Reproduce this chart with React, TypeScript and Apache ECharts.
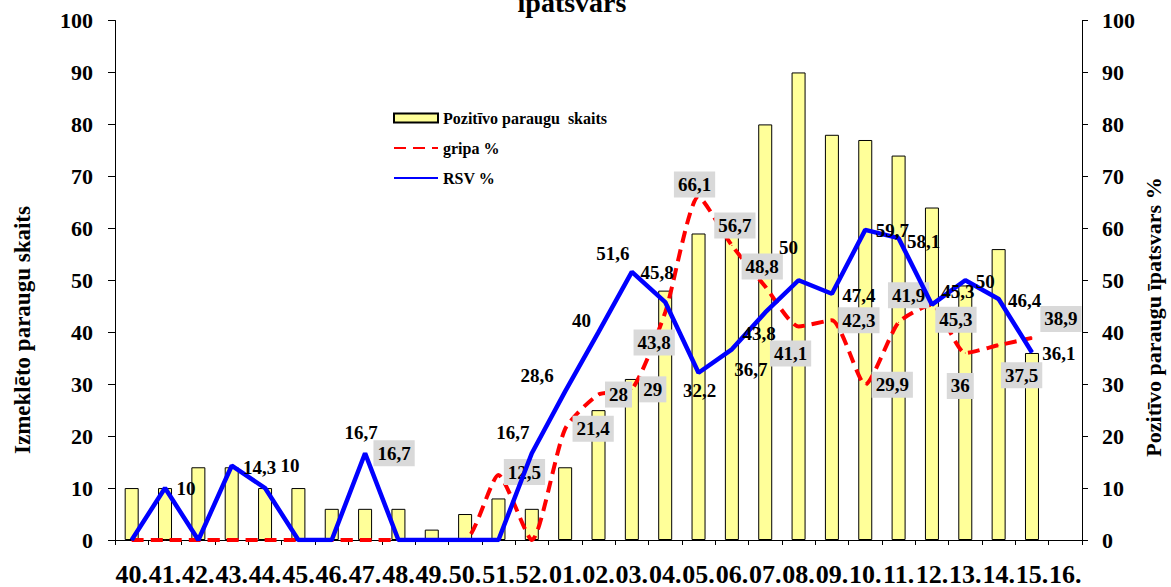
import React, { useEffect, useRef } from 'react';
import * as echarts from 'echarts';

const weeks = ['40.', '41.', '42.', '43.', '44.', '45.', '46.', '47.', '48.', '49.', '50.', '51.', '52.', '01.', '02.', '03.', '04.', '05.', '06.', '07.', '08.', '09.', '10.', '11.', '12.', '13.', '14.', '15.', '16.'];
const positiveSamples = [10, 10, 14, 14, 10, 10, 6, 6, 6, 2, 5, 8, 6, 14, 25, 31, 48, 59, 60, 80, 90, 78, 77, 74, 64, 49, 56, 36, null];
const gripaPct = [0, 0, 0, 0, 0, 0, 0, 0, 0, 0, 0, 12.5, 0, 21.4, 28, 29, 43.8, 66.1, 56.7, 48.8, 41.1, 42.3, 29.9, 41.9, 45.3, 36, 37.5, 38.9, null];
const rsvPct = [0, 10, 0, 14.3, 10, 0, 0, 16.7, 0, 0, 0, 0, 16.7, 28.6, 40, 51.6, 45.8, 32.2, 36.7, 43.8, 50, 47.4, 59.7, 58.1, 45.3, 50, 46.4, 36.1, null];
const extraRsvLabelWeek = '47.';
const extraRsvLabelValue = 16.7;
const axisMin = 0;
const axisMax = 100;
const axisStep = 10;

const barName = 'Pozitīvo paraugu  skaits';
const gripaName = 'gripa %';
const rsvName = 'RSV %';

// label placement (offset of label centre from its point, px)
const rsvLabelOffset: Record<string, [number, number]> = {
  '41.': [21, 0], '43.': [28, 2], '44.': [25, -23], '47.': [-4, -21], '52.': [-19, -21],
  '01.': [-28, -16], '02.': [-17, -12], '03.': [-19, -18], '04.': [-8, -30], '05.': [1, 18],
  '06.': [19, 20], '07.': [-6, 21], '08.': [-10, -33], '09.': [27, 2], '10.': [27, 1],
  '11.': [25, 3], '12.': [26, -13], '13.': [20, 1], '14.': [26, 2], '15.': [27, 1],
};
const gripaLabelOffset: Record<string, [number, number]> = {
  '51.': [26, -3], '01.': [28, 0], '02.': [20, 0], '03.': [21, 0], '04.': [-11, 30],
  '05.': [-4, -12], '06.': [3, -20], '07.': [-3, -20], '08.': [-8, 27], '09.': [27, 0],
  '10.': [27, 0], '11.': [10, -27], '12.': [24, 15], '13.': [-5, 33], '14.': [23, 30],
  '15.': [29, -19],
};

const FONT = 'Liberation Serif, Times New Roman, serif';
const fmt = (v: number) => String(v).replace('.', ',');

const plainLabel = {
  show: true,
  position: 'inside',
  align: 'center',
  verticalAlign: 'middle',
  color: '#000',
  fontFamily: FONT,
  fontWeight: 'bold',
  fontSize: 19,
};
const boxLabel = {
  ...plainLabel,
  backgroundColor: '#d9d9d9',
  padding: [4, 4, 3, 4],
};

export default function App() {
  const ref = useRef<HTMLDivElement>(null);
  useEffect(() => {
    if (!ref.current) return;
    const chart = echarts.init(ref.current, null, { renderer: 'svg' });

    const rsvData = rsvPct.map((v, i) => {
      const off = rsvLabelOffset[weeks[i]];
      return {
        value: v,
        label: off ? { ...plainLabel, offset: off, formatter: () => fmt(v as number) } : { show: false },
      };
    });
    const gripaData = gripaPct.map((v, i) => {
      const off = gripaLabelOffset[weeks[i]];
      return {
        value: v,
        label: off ? { ...boxLabel, offset: off, formatter: () => fmt(v as number) } : { show: false },
      };
    });

    const yLabel = { color: '#000', fontFamily: FONT, fontWeight: 'bold', fontSize: 22 };

    chart.setOption({
      animation: false,
      textStyle: { fontFamily: FONT },
      grid: { left: 115, right: 89, top: 20.5, bottom: 45, containLabel: false },
      legend: {
        orient: 'vertical',
        left: 388,
        top: 105,
        itemWidth: 44,
        itemHeight: 9,
        itemGap: 14,
        textStyle: { color: '#000', fontFamily: FONT, fontWeight: 'bold', fontSize: 16, lineHeight: 16 },
        data: [
          { name: barName, icon: 'rect' },
          { name: gripaName, itemStyle: { opacity: 0 } },
          { name: rsvName, itemStyle: { opacity: 0 } },
        ],
      },
      xAxis: {
        type: 'category',
        data: weeks,
        boundaryGap: true,
        axisLine: { lineStyle: { color: '#000', width: 1 } },
        axisTick: { show: true, length: 5, interval: 0, lineStyle: { color: '#000' } },
        axisLabel: { interval: 0, margin: 21, color: '#000', fontFamily: FONT, fontWeight: 'bold', fontSize: 26, lineHeight: 26 },
        splitLine: { show: false },
      },
      yAxis: [
        {
          type: 'value',
          min: axisMin, max: axisMax, interval: axisStep,
          position: 'left',
          axisLine: { show: true, lineStyle: { color: '#000', width: 1 } },
          axisTick: { show: true, length: 7, lineStyle: { color: '#000' } },
          axisLabel: { ...yLabel, margin: 22 },
          splitLine: { show: false },
        },
        {
          type: 'value',
          min: axisMin, max: axisMax, interval: axisStep,
          position: 'right',
          axisLine: { show: true, lineStyle: { color: '#000', width: 1 } },
          axisTick: { show: true, length: 6, lineStyle: { color: '#000' } },
          axisLabel: { ...yLabel, margin: 20 },
          splitLine: { show: false },
        },
      ],
      series: [
        {
          name: barName,
          type: 'bar',
          yAxisIndex: 0,
          data: positiveSamples,
          barWidth: 14,
          itemStyle: { color: '#ffff99', borderColor: '#000', borderWidth: 1 },
          z: 1,
        },
        {
          name: gripaName,
          type: 'line',
          yAxisIndex: 1,
          data: gripaData,
          smooth: 0.2,
          symbol: 'circle',
          symbolSize: 1,
          itemStyle: { color: '#ff0000' },
          lineStyle: { color: '#ff0000', width: 4, type: [12, 7] },
          z: 3,
        },
        {
          name: rsvName,
          type: 'line',
          yAxisIndex: 1,
          data: rsvData,
          symbol: 'circle',
          symbolSize: 1,
          itemStyle: { color: '#0000ff' },
          lineStyle: { color: '#0000ff', width: 4.5 },
          z: 4,
          markPoint: {
            symbol: 'circle',
            symbolSize: 1,
            itemStyle: { color: 'rgba(0,0,0,0)' },
            data: [
              {
                coord: [extraRsvLabelWeek, extraRsvLabelValue],
                label: { ...boxLabel, offset: [29, 0], formatter: () => fmt(extraRsvLabelValue) },
              },
            ],
          },
        },
      ],
      graphic: [
        {
          type: 'text',
          x: 572, y: 2,
          style: { text: 'īpatsvars', fill: '#000', font: `bold 28px ${FONT}`, textAlign: 'center', textVerticalAlign: 'middle' },
        },
        {
          type: 'text',
          x: 22, y: 330, rotation: Math.PI / 2,
          style: { text: 'Izmeklēto paraugu skaits', fill: '#000', font: `bold 23px ${FONT}`, textAlign: 'center', textVerticalAlign: 'middle' },
        },
        {
          type: 'text',
          x: 1153, y: 317, rotation: Math.PI / 2,
          style: { text: 'Pozitīvo paraugu īpatsvars %', fill: '#000', font: `bold 22px ${FONT}`, textAlign: 'center', textVerticalAlign: 'middle' },
        },
      ],
    });
    return () => chart.dispose();
  }, []);
  return <div ref={ref} style={{ position: 'fixed', left: 0, top: 0, width: 1171, height: 587, background: '#fff' }} />;
}
